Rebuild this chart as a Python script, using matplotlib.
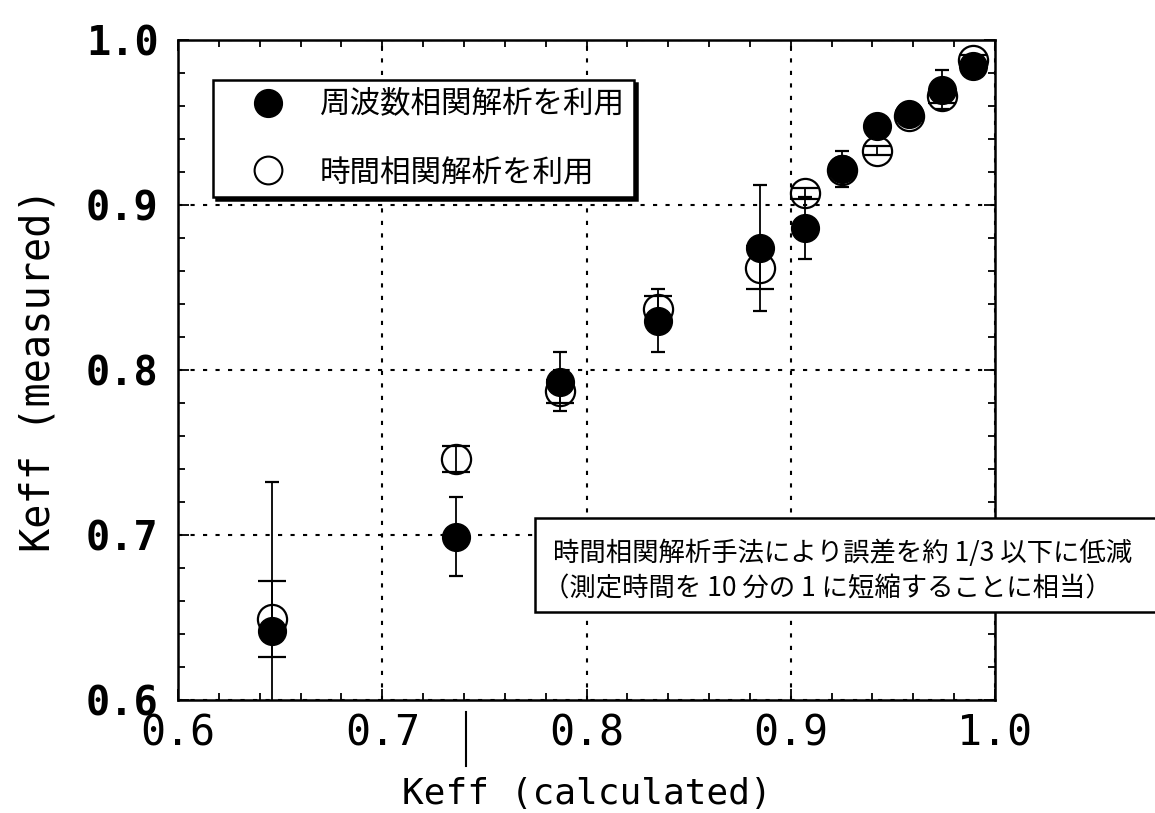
import matplotlib.pyplot as plt
from matplotlib.lines import Line2D
from matplotlib.patches import Rectangle
from matplotlib.ticker import MultipleLocator
from matplotlib.transforms import ScaledTranslation

# Keff (calculated) on x, Keff (measured) on y
keff_calc = [0.646, 0.736, 0.787, 0.835, 0.885, 0.907, 0.925, 0.942, 0.958, 0.974, 0.989]
# frequency correlation analysis
freq_meas = [0.642, 0.699, 0.793, 0.830, 0.874, 0.886, 0.922, 0.948, 0.955, 0.970, 0.984]
freq_err = [0.090, 0.024, 0.018, 0.019, 0.038, 0.019, 0.011, 0.005, 0.004, 0.012, 0.004]
# time correlation analysis
time_meas = [0.649, 0.746, 0.787, 0.837, 0.862, 0.907, 0.921, 0.933, 0.954, 0.966, 0.988]
time_err = [0.023, 0.008, 0.007, 0.008, 0.013, 0.0035, 0.003, 0.0025, 0.003, 0.004, 0.003]

ticks = [0.6, 0.7, 0.8, 0.9, 1.0]
tick_labels = ['0.6', '0.7', '0.8', '0.9', '1.0']
legend_labels = ['周波数相関解析を利用', '時間相関解析を利用']
note_lines = ['時間相関解析手法により誤差を約 1/3 以下に低減',
              '（測定時間を 10 分の 1 に短縮することに相当）']

jp = ['Noto Sans CJK JP', 'DejaVu Sans']
mono = 'DejaVu Sans Mono'

fig = plt.figure(figsize=(11.55, 8.13), dpi=100)
ax = fig.add_axes([178/1155, 1 - 700/813, 817/1155, 660/813])

# open circles first, filled ones on top
ax.errorbar(keff_calc, time_meas, yerr=time_err, fmt='o', ms=21, mfc='none',
            mec='black', mew=1.6, ecolor='black', elinewidth=1.3,
            capsize=10, capthick=2.2, zorder=3)
ax.errorbar(keff_calc, freq_meas, yerr=freq_err, fmt='o', ms=20, mfc='black',
            mec='black', ecolor='black', elinewidth=1.3,
            capsize=5, capthick=1.6, zorder=4)

ax.set_xlim(0.6, 1.0)
ax.set_ylim(0.6, 1.0)
ax.set_xticks(ticks)
ax.set_yticks(ticks)
ax.set_xticklabels(tick_labels, family=mono, fontsize=30)
ax.set_yticklabels(tick_labels, family=mono, fontweight='bold', fontsize=29)
# y labels sit a little above their ticks in the original
for lab in ax.get_yticklabels():
    lab.set_transform(lab.get_transform() + ScaledTranslation(0, 6/72, fig.dpi_scale_trans))
ax.xaxis.set_minor_locator(MultipleLocator(0.02))
ax.yaxis.set_minor_locator(MultipleLocator(0.02))
ax.tick_params(which='both', direction='in', top=True, right=True, width=1.3)
ax.tick_params(which='major', length=8)
ax.tick_params(which='minor', length=5)
ax.tick_params(axis='x', pad=9)
ax.tick_params(axis='y', pad=14)
for s in ax.spines.values():
    s.set_linewidth(1.8)
ax.grid(True, which='major', color='black', linestyle=(0, (2, 4)), linewidth=1.5)

ax.set_xlabel('Keff (calculated)', family=mono, fontsize=26, labelpad=16)
ax.set_ylabel('Keff (measured)', family=mono, fontsize=29, labelpad=20)

handles = [Line2D([], [], marker='o', ls='none', ms=20, mfc='black', mec='black'),
           Line2D([], [], marker='o', ls='none', ms=20, mfc='none', mec='black', mew=1.5)]
leg = ax.legend(handles, legend_labels, loc='upper left', bbox_to_anchor=(0.043, 0.939),
                prop={'family': jp, 'size': 22}, frameon=True, fancybox=False,
                edgecolor='black', framealpha=1, shadow={'color': 'black', 'alpha': 1},
                handlelength=3, handletextpad=0.2, labelspacing=1.2, borderpad=0.3,
                borderaxespad=0)
leg.get_frame().set_linewidth(1.8)
leg.set_zorder(6)

# note box, running off the right edge
box = Rectangle((535/1155, 1 - 612/813), 700/1155, 94/813, transform=fig.transFigure,
                facecolor='white', edgecolor='black', linewidth=1.8, zorder=5)
fig.add_artist(box)
fig.text(553/1155, 1 - 553/813, note_lines[0], family=jp, fontsize=19, va='center', zorder=6)
fig.text(543/1155, 1 - 589/813, note_lines[1], family=jp, fontsize=19, va='center', zorder=6)

# stray mark below the axis in the original
fig.add_artist(Line2D([466/1155, 466/1155], [1 - 712/813, 1 - 766/813],
                      transform=fig.transFigure, color='black', lw=1.5))

fig.savefig('out.png', dpi=100, facecolor='white')
